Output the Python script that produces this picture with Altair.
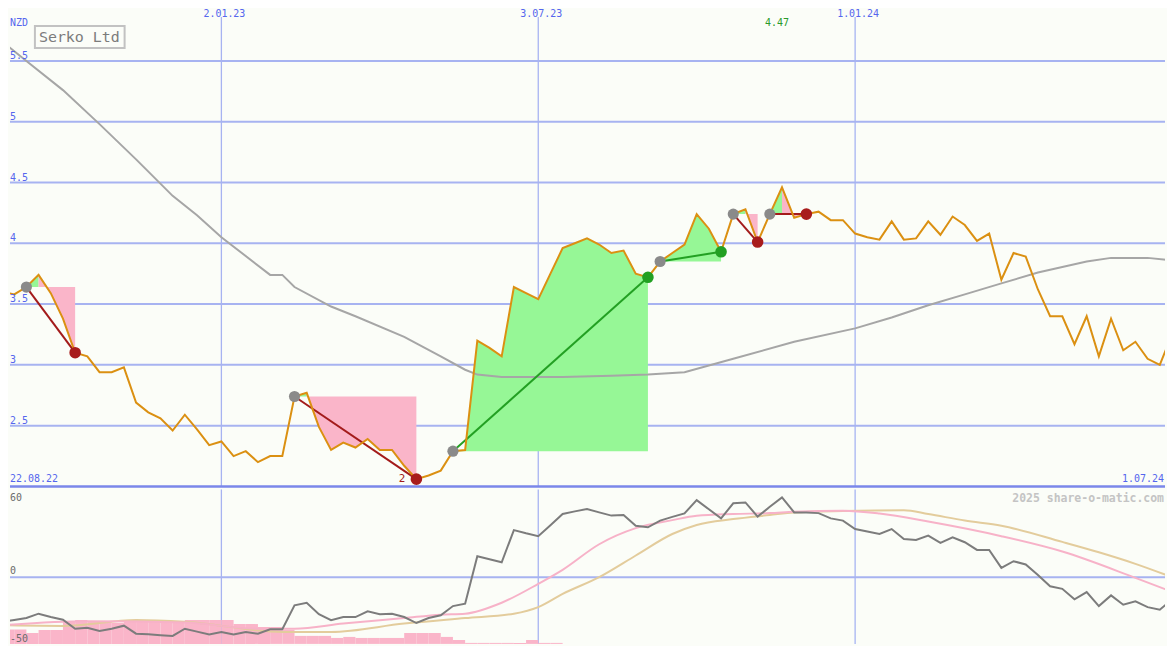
import altair as alt
import pandas as pd

# ---------------- data ----------------
first_week = "2022-08-29"          # weekly closes, one value per week
price = [3.60, 3.58, 3.64, 3.74, 3.59, 3.38, 3.10, 3.07, 2.94, 2.94,
         2.98, 2.69, 2.61, 2.56, 2.46, 2.59, 2.47, 2.34, 2.37, 2.25,
         2.29, 2.20, 2.25, 2.25, 2.74, 2.77, 2.49, 2.30, 2.36, 2.32,
         2.39, 2.30, 2.30, 2.17, 2.06, 2.09, 2.13, 2.29, 2.30, 3.20,
         3.14, 3.07, 3.64, 3.59, 3.54, 3.75, 3.96, 4.00, 4.04, 3.99,
         3.92, 3.94, 3.75, 3.72, 3.85, 3.92, 3.99, 4.24, 4.12, 3.93,
         4.24, 4.28, 4.01, 4.24, 4.46, 4.21, 4.24, 4.26, 4.19, 4.19,
         4.08, 4.05, 4.03, 4.18, 4.03, 4.04, 4.18, 4.07, 4.22, 4.15,
         4.02, 4.08, 3.70, 3.92, 3.89, 3.62, 3.40, 3.40, 3.17, 3.40,
         3.07, 3.38, 3.12, 3.19, 3.05, 3.00, 3.25]

# long moving average of price (read at selected weeks)
sma_weeks = [0, 2, 5, 8, 11, 14, 16, 18, 22, 23, 24, 27, 29, 33, 36, 38, 39, 41,
             46, 50, 53, 56, 60, 65, 70, 73, 76, 79, 82, 85, 89, 91, 94, 96]
sma_vals = [5.66, 5.50, 5.26, 4.98, 4.69, 4.39, 4.23, 4.05, 3.74, 3.74, 3.64, 3.48,
            3.40, 3.23, 3.07, 2.96, 2.92, 2.90, 2.90, 2.91, 2.92, 2.94, 3.05, 3.19,
            3.30, 3.39, 3.49, 3.58, 3.67, 3.76, 3.85, 3.88, 3.88, 3.86]

# indicator panel
momentum = [-30.7, -29.3, -28.0, -25.0, -27.3, -29.1, -35.3, -34.6, -36.8, -35.3,
            -33.2, -38.7, -39.1, -39.7, -40.2, -35.3, -37.3, -39.3, -37.5, -39.3,
            -37.5, -38.7, -35.7, -35.7, -19.3, -17.5, -25.4, -29.5, -27.3, -27.3,
            -23.4, -25.4, -25.0, -27.3, -31.4, -28.0, -26.1, -19.8, -18.2, 14.3,
            12.3, 10.2, 32.2, 30.0, 28.0, 35.5, 43.2, 45.0, 46.6, 44.3,
            42.1, 42.5, 35.2, 34.1, 38.7, 41.2, 43.6, 52.7, 46.4, 40.2,
            50.5, 51.1, 41.4, 48.1, 54.5, 44.3, 44.3, 43.8, 40.2, 38.7,
            32.9, 31.2, 29.5, 32.9, 26.1, 25.4, 28.4, 23.4, 27.3, 23.9,
            18.6, 18.6, 6.3, 10.9, 8.7, 1.4, -6.3, -8.0, -15.2, -10.2,
            -19.8, -12.5, -18.9, -16.6, -20.5, -22.3, -15.2]

fast_weeks = [0, 7, 15, 21, 24, 28, 33, 36, 38, 41, 44, 46, 49, 52, 55, 57, 60,
              63, 65, 69, 72, 76, 82, 87, 93, 96]
fast_vals = [-32.9, -30.2, -31.1, -35.3, -35.3, -31.8, -28.0, -25.7, -25.0, -17.5,
             -4.6, 5.0, 22.5, 33.5, 39.0, 42.0, 43.2, 43.8, 44.8, 45.5, 43.5, 38.0,
             28.0, 17.5, -0.5, -10.0]

slow_weeks = [0, 5, 11, 15, 23, 27, 33, 38, 42, 44, 46, 49, 52, 55, 57, 60, 63,
              65, 69, 74, 76, 79, 82, 87, 90, 93, 96]
slow_vals = [-32.9, -33.4, -29.3, -30.5, -37.5, -37.5, -31.8, -28.0, -25.0, -20.5,
             -11.5, 0.0, 14.8, 29.5, 35.7, 39.7, 42.5, 44.3, 45.3, 45.8, 43.2, 38.7,
             35.2, 24.1, 17.0, 9.1, 0.0]

sell_hist = [-35.9, -35.9, -38.2, -36.1, -36.1, -30.7, -29.3, -30.0, -30.7, -31.4,
             -30.7, -30.0, -30.0, -30.0, -31.4, -29.3, -29.3, -29.3, -29.3, -32.1,
             -32.1, -34.1, -34.1, -36.1, -40.2, -40.2, -40.2, -41.6, -40.9, -41.6,
             -41.6, -41.6, -41.6, -38.2, -38.2, -38.2, -40.9, -43.0, -45.0, -45.0,
             -45.0, -45.0, -45.0, -43.0, -45.0, -45.0, -47.0, -49.1, -49.1, -49.1,
             -49.1, -49.1, -49.1, -49.1, -49.1]
buy_hist_weeks = [65, 66, 67, 68]
buy_hist_vals = [-49.1, -49.1, -49.1, -49.1]

# trades (week indices)
trade_entry = [2, 24, 37, 54, 60, 63]
trade_exit = [6, 34, 53, 59, 62, 66]
trade_result = ["loss", "loss", "win", "win", "loss", "loss"]

price_ticks = [2.5, 3, 3.5, 4, 4.5, 5, 5.5]
price_tick_labels = ["2.5", "3", "3.5", "4", "4.5", "5", "5.5"]
date_ticks = ["2023-01-02", "2023-07-03", "2024-01-01"]
date_tick_labels = ["2.01.23", "3.07.23", "1.01.24"]
ind_ticks = [0]
ind_tick_labels = ["0"]
ind_top_label = "60"
ind_bottom_label = "-50"
range_start_label = "22.08.22"
range_end_label = "1.07.24"
title = "Serko Ltd"
currency = "NZD"
high_label = "4.47"
high_week = 64
count_label = "2"
watermark = "2025 share-o-matic.com"

# ---------------- tables ----------------
weeks = pd.date_range(first_week, periods=len(price), freq="7D")
dates = list(weeks.strftime("%Y-%m-%d"))

price_df = pd.DataFrame({"date": dates, "price": price})
sma_df = pd.DataFrame({"date": [dates[i] for i in sma_weeks], "price": sma_vals})
mom_df = pd.DataFrame({"date": dates, "v": momentum})
fast_df = pd.DataFrame({"date": [dates[i] for i in fast_weeks], "v": fast_vals})
slow_df = pd.DataFrame({"date": [dates[i] for i in slow_weeks], "v": slow_vals})
sell_df = pd.DataFrame({"date": dates[:len(sell_hist)],
                        "date2": dates[1:len(sell_hist) + 1], "v": sell_hist})
buy_df = pd.DataFrame({"date": [dates[i] for i in buy_hist_weeks],
                       "date2": [dates[i + 1] for i in buy_hist_weeks], "v": buy_hist_vals})

fill_rows, link_rows, entry_rows, exit_rows = [], [], [], []
for k, (a, b, res) in enumerate(zip(trade_entry, trade_exit, trade_result)):
    level = price[a]
    if res == "win":
        segs = [("gain", a, b)]
    else:
        pk = max(range(a, b + 1), key=lambda i: price[i])
        segs = [("gain", a, pk), ("loss", pk, b)]
    for seg, s, e in segs:
        for i in range(s, e + 1):
            fill_rows.append({"key": f"{k}-{seg}", "seg": seg, "date": dates[i],
                              "price": price[i], "level": level})
    for i in (a, b):
        link_rows.append({"trade": k, "result": res, "date": dates[i], "price": price[i]})
    entry_rows.append({"date": dates[a], "price": price[a]})
    exit_rows.append({"date": dates[b], "price": price[b], "result": res})
fill_df = pd.DataFrame(fill_rows)
link_df = pd.DataFrame(link_rows)
entry_df = pd.DataFrame(entry_rows)
exit_df = pd.DataFrame(exit_rows)

# ---------------- layout & style ----------------
# the page has an 8px margin: the chart must fit in 1159 x 634
W, H_TOP, H_BOT = 1159, 479, 155
MARGIN = 8
PX_PER_DAY = 1174 / 672
PX_PER_NZD = 122
PX_PER_IND = 88 / 60

t0 = pd.Timestamp(first_week)
x_dom = [int((t0 + pd.Timedelta(days=MARGIN / PX_PER_DAY)).value // 10**6),
         int((t0 + pd.Timedelta(days=(W + MARGIN) / PX_PER_DAY)).value // 10**6)]
xscale = alt.Scale(type="utc", domain=x_dom)
yP = alt.Scale(domain=[2.0, 2.0 + H_TOP / PX_PER_NZD], zero=False, nice=False)
yI = alt.Scale(domain=[-(H_BOT - 88) / PX_PER_IND, 60], zero=False, nice=False)

BG = "#fbfdf8"
GRID = "#a7b3f1"
SEP = "#7b87ea"
AXIS_TXT = "#5566ee"
ORANGE = "#db9012"
MA_GREY = "#a6a6a6"
GREEN_FILL = "#96f796"
PINK_FILL = "#fab5c9"
FONT = "DejaVu Sans Mono"

X = alt.X("date:T", scale=xscale, axis=None)
X2 = alt.X2("date2:T")


def YP(f):
    return alt.Y(f"{f}:Q", scale=yP, axis=None)


def YI(f):
    return alt.Y(f"{f}:Q", scale=yI, axis=None)


tick_df = pd.DataFrame({"date": date_ticks, "label": date_tick_labels})
ptick_df = pd.DataFrame({"v": price_ticks, "label": price_tick_labels})
itick_df = pd.DataFrame({"v": ind_ticks, "label": ind_tick_labels})
one = pd.DataFrame({"a": [0]})

# ---------------- top panel ----------------
grid_h = alt.Chart(ptick_df).mark_rule(color=GRID, strokeWidth=2).encode(y=YP("v"))
grid_v = alt.Chart(tick_df).mark_rule(color=GRID, strokeWidth=1.3).encode(
    x=X, y=alt.value(8), y2=alt.value(H_TOP))
sep = alt.Chart(pd.DataFrame({"v": [2.0]})).mark_rule(color=SEP, strokeWidth=2.5).encode(y=YP("v"))

fills = alt.Chart(fill_df).mark_area(opacity=1, clip=True).encode(
    x=X, y=YP("price"), y2=alt.Y2("level"), detail="key:N",
    color=alt.Color("seg:N", scale=alt.Scale(domain=["gain", "loss"],
                                             range=[GREEN_FILL, PINK_FILL]), legend=None))
sma_line = alt.Chart(sma_df).mark_line(color=MA_GREY, strokeWidth=2, clip=True).encode(
    x=X, y=YP("price"))
links = alt.Chart(link_df).mark_line(strokeWidth=2, clip=True).encode(
    x=X, y=YP("price"), detail="trade:N",
    color=alt.Color("result:N", scale=alt.Scale(domain=["loss", "win"],
                                                range=["#a31b1b", "#23a023"]), legend=None))
price_line = alt.Chart(price_df).mark_line(color=ORANGE, strokeWidth=2, clip=True).encode(
    x=X, y=YP("price"))
entry_dots = alt.Chart(entry_df).mark_circle(size=125, color="#8a8a8a", opacity=1).encode(
    x=X, y=YP("price"))
exit_dots = alt.Chart(exit_df).mark_circle(size=135, opacity=1).encode(
    x=X, y=YP("price"),
    color=alt.Color("result:N", scale=alt.Scale(domain=["loss", "win"],
                                                range=["#a81c1c", "#22a022"]), legend=None))

price_lbl = alt.Chart(ptick_df).mark_text(
    font=FONT, fontSize=10, color=AXIS_TXT, align="left", baseline="alphabetic", dy=-2).encode(
    x=alt.value(0), y=YP("v"), text="label:N")
date_lbl = alt.Chart(tick_df).mark_text(
    font=FONT, fontSize=10, color=AXIS_TXT, align="center", baseline="alphabetic", dx=3).encode(
    x=X, y=alt.value(8), text="label:N")
cur_lbl = alt.Chart(pd.DataFrame({"t": [currency]})).mark_text(
    font=FONT, fontSize=10, color=AXIS_TXT, align="left", baseline="alphabetic").encode(
    x=alt.value(0), y=alt.value(17), text="t:N")
start_lbl = alt.Chart(pd.DataFrame({"t": [range_start_label]})).mark_text(
    font=FONT, fontSize=10, color=AXIS_TXT, align="left", baseline="alphabetic").encode(
    x=alt.value(0), y=alt.value(475), text="t:N")
end_lbl = alt.Chart(pd.DataFrame({"t": [range_end_label]})).mark_text(
    font=FONT, fontSize=10, color=AXIS_TXT, align="right", baseline="alphabetic").encode(
    x=alt.value(W - 1), y=alt.value(475), text="t:N")
title_box = alt.Chart(one).mark_rect(fill=BG, stroke="#c2c2c2", strokeWidth=2).encode(
    x=alt.value(25), x2=alt.value(115), y=alt.value(17), y2=alt.value(39))
title_txt = alt.Chart(pd.DataFrame({"t": [title]})).mark_text(
    font=FONT, fontSize=15, color="#7c7c7c", align="left", baseline="alphabetic").encode(
    x=alt.value(29), y=alt.value(33), text="t:N")
high_txt = alt.Chart(pd.DataFrame({"date": [dates[high_week]], "t": [high_label]})).mark_text(
    font=FONT, fontSize=10, color="#2a9a2a", align="center", baseline="alphabetic", dx=-5).encode(
    x=X, y=alt.value(17), text="t:N")
count_txt = alt.Chart(pd.DataFrame({"date": [dates[trade_exit[1]]], "price": [price[trade_exit[1]]],
                                    "t": [count_label]})).mark_text(
    font=FONT, fontSize=11, color="#a31b1b", align="right", baseline="middle", dx=-11).encode(
    x=X, y=YP("price"), text="t:N")

top = alt.layer(grid_h, grid_v, sep, fills, sma_line, links, price_line, entry_dots, exit_dots,
                price_lbl, date_lbl, cur_lbl, start_lbl, end_lbl, title_box, title_txt,
                high_txt, count_txt).resolve_scale(color="independent").properties(
    width=W, height=H_TOP)

# ---------------- bottom panel ----------------
bgrid_v = alt.Chart(tick_df).mark_rule(color=GRID, strokeWidth=1.3).encode(
    x=X, y=alt.value(0), y2=alt.value(H_BOT))
bgrid_h = alt.Chart(pd.DataFrame({"v": [0]})).mark_rule(color=GRID, strokeWidth=2).encode(y=YI("v"))
sell_bars = alt.Chart(sell_df).mark_rect(color=PINK_FILL, clip=True).encode(
    x=X, x2=X2, y=YI("v"), y2=alt.value(H_BOT))
buy_bars = alt.Chart(buy_df).mark_rect(color=GREEN_FILL, clip=True).encode(
    x=X, x2=X2, y=YI("v"), y2=alt.value(H_BOT))
slow_line = alt.Chart(slow_df).mark_line(color="#e3cc9c", strokeWidth=2, interpolate="monotone",
                                         clip=True).encode(x=X, y=YI("v"))
fast_line = alt.Chart(fast_df).mark_line(color="#f7b2c8", strokeWidth=2, interpolate="monotone",
                                         clip=True).encode(x=X, y=YI("v"))
mom_line = alt.Chart(mom_df).mark_line(color="#7c7c7c", strokeWidth=2, clip=True).encode(
    x=X, y=YI("v"))
ind_lbl = alt.Chart(itick_df).mark_text(
    font=FONT, fontSize=10, color="#6c6c6c", align="left", baseline="alphabetic", dy=-3).encode(
    x=alt.value(0), y=YI("v"), text="label:N")
ind_top = alt.Chart(pd.DataFrame({"t": [ind_top_label]})).mark_text(
    font=FONT, fontSize=10, color="#6c6c6c", align="left", baseline="alphabetic").encode(
    x=alt.value(0), y=alt.value(12), text="t:N")
ind_bot = alt.Chart(pd.DataFrame({"t": [ind_bottom_label]})).mark_text(
    font=FONT, fontSize=10, color="#6c6c6c", align="left", baseline="alphabetic").encode(
    x=alt.value(0), y=alt.value(H_BOT - 2), text="t:N")
wm = alt.Chart(pd.DataFrame({"t": [watermark]})).mark_text(
    font=FONT, fontSize=11.5, fontWeight="bold", color="#c4c4c4", align="right",
    baseline="alphabetic").encode(x=alt.value(W - 1), y=alt.value(13), text="t:N")

bottom = alt.layer(bgrid_v, bgrid_h, sell_bars, buy_bars, slow_line, fast_line, mom_line,
                   ind_lbl, ind_top, ind_bot, wm).properties(width=W, height=H_BOT)

chart = alt.vconcat(top, bottom, spacing=0).properties(
    padding=0, background=BG).configure_view(strokeWidth=0)

chart.save("out.html", embed_options={"renderer": "svg", "actions": False})
